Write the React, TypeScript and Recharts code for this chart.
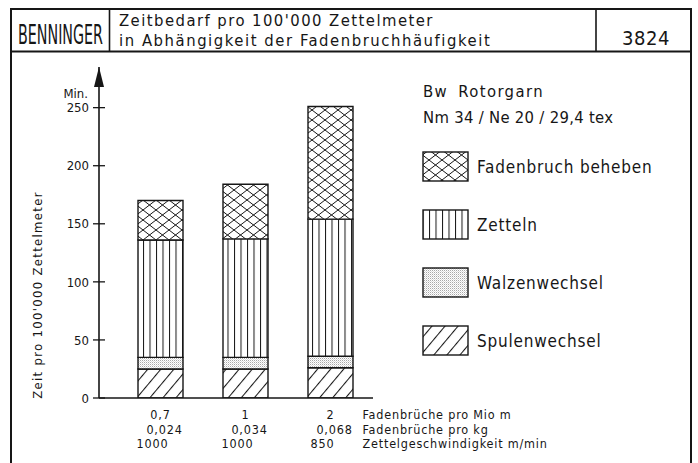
import { BarChart, Bar, XAxis, YAxis } from 'recharts'

// Werte (Minuten pro 100'000 Zettelmeter)
const categories = ['0,7', '1', '2']
const spulenwechsel = [25, 25, 26]
const walzenwechsel = [10, 10, 10]
const zetteln = [101, 102, 118]
const fadenbruchBeheben = [34, 47, 97]
const yTicks = [0, 50, 100, 150, 200, 250]

const fadenbruecheProMio = ['0,7', '1', '2']
const fadenbruecheProKg = ['0,024', '0,034', '0,068']
const zettelgeschwindigkeit = ['1000', '1000', '850']
const rowLabels = ['Fadenbrüche pro Mio m', 'Fadenbrüche pro kg', 'Zettelgeschwindigkeit m/min']

const SERIES = [
    { key: 'spulen', name: 'Spulenwechsel', values: spulenwechsel, fill: 'url(#diag)' },
    { key: 'walzen', name: 'Walzenwechsel', values: walzenwechsel, fill: 'url(#stipple)' },
    { key: 'zetteln', name: 'Zetteln', values: zetteln, fill: 'url(#vert)' },
    { key: 'faden', name: 'Fadenbruch beheben', values: fadenbruchBeheben, fill: 'url(#cross)' },
]

const data = categories.map((c, i) => {
    const row: Record<string, string | number> = { name: c }
    SERIES.forEach((s) => { row[s.key] = s.values[i] })
    return row
})

const FONT = '"DejaVu Sans Condensed", "DejaVu Sans", sans-serif'
const INK = '#161616'

const ROW_DX = [0, 4, -8]
const ROW_DY = [21, 35.5, 49.5]

function YTick(props: any) {
    const { x, y, payload } = props
    return (
        <g>
            <line x1={x + 10} x2={x + 16} y1={y} y2={y} stroke={INK} strokeWidth={1.3} />
            <text x={x} y={y + 4.7} textAnchor="end" fontFamily={FONT} fontSize={13} fill={INK}>
                {payload.value}
            </text>
        </g>
    )
}

function BottomTick(props: any) {
    const { x, y, index } = props
    const rows = [fadenbruecheProMio, fadenbruecheProKg, zettelgeschwindigkeit]
    return (
        <g fontFamily={FONT} fontSize={12.5} fill={INK} letterSpacing={0.8}>
            {rows.map((row, r) => (
                <text key={r} x={x + ROW_DX[r]} y={y + ROW_DY[r]} textAnchor="middle" fill={INK}>
                    {row[index]}
                </text>
            ))}
            {index === categories.length - 1 &&
                rowLabels.map((l, r) => (
                    <text key={'l' + r} x={x + 32} y={y + ROW_DY[r]} textAnchor="start" fill={INK}>
                        {l}
                    </text>
                ))}
        </g>
    )
}

export default function App() {
    const legendItems = [...SERIES].reverse()

    return (
        <div style={{ position: 'absolute', left: 0, top: 0, width: 698, height: 463, background: '#fff', overflow: 'hidden' }}>
            <svg width={698} height={463} style={{ position: 'absolute', left: 0, top: 0 }}>
                <defs>
                    <pattern id="cross" patternUnits="userSpaceOnUse" width={13} height={10}>
                        <rect width={13} height={10} fill="#fff" />
                        <path d="M0 0 L13 10 M0 10 L13 0" stroke={INK} strokeWidth={1} />
                    </pattern>
                    <pattern id="vert" patternUnits="userSpaceOnUse" width={6.5} height={10}>
                        <rect width={6.5} height={10} fill="#fff" />
                        <line x1={0.5} x2={0.5} y1={0} y2={10} stroke={INK} strokeWidth={1} />
                    </pattern>
                    <pattern id="stipple" patternUnits="userSpaceOnUse" width={2} height={2}>
                        <rect width={2} height={2} fill="#fff" />
                        <rect width={1} height={1} fill="#a8a8a8" />
                        <rect x={1} y={1} width={1} height={1} fill="#dcdcdc" />
                    </pattern>
                    <pattern id="diag" patternUnits="userSpaceOnUse" width={10} height={10} patternTransform="rotate(40)">
                        <rect width={10} height={10} fill="#fff" />
                        <line x1={0.5} x2={0.5} y1={0} y2={10} stroke={INK} strokeWidth={1.1} />
                    </pattern>
                    <marker id="arrowHead" markerUnits="userSpaceOnUse" markerWidth={10} markerHeight={20}
                        viewBox="0 0 10 20" refX={5} refY={0} orient="0">
                        <path d="M5 0 L10 20 L0 20 Z" fill={INK} />
                    </marker>
                </defs>

                {/* Rahmen und Kopfzeile */}
                <path d="M11 470 L11 9 L691 9 L691 470" fill="none" stroke={INK} strokeWidth={2} />
                <line x1={11} x2={691} y1={51.5} y2={51.5} stroke={INK} strokeWidth={2} />
                <line x1={109.5} x2={109.5} y1={9} y2={51.5} stroke={INK} strokeWidth={1.6} />
                <line x1={596} x2={596} y1={9} y2={51.5} stroke={INK} strokeWidth={1.6} />

                <g transform="translate(18 43.5) scale(1 1.75)">
                    <text x={0} y={0} fontFamily={FONT} fontSize={15.5} fill={INK}
                        textLength={85} lengthAdjust="spacingAndGlyphs">BENNINGER</text>
                </g>
                <text x={119} y={25.5} fontFamily={FONT} fontSize={16.5} fill={INK} letterSpacing={1.45}>
                    Zeitbedarf pro 100'000 Zettelmeter
                </text>
                <text x={119} y={45.5} fontFamily={FONT} fontSize={16.5} fill={INK} letterSpacing={1.55}>
                    in Abhängigkeit der Fadenbruchhäufigkeit
                </text>
                <text x={646} y={45} textAnchor="middle" fontFamily={FONT} fontSize={20} fill={INK}
                    letterSpacing={0.6}>3824</text>

                {/* Achsentitel */}
                <text x={42} y={295} transform="rotate(-90 42 295)" textAnchor="middle" fontFamily={FONT}
                    fontSize={13} fill={INK} letterSpacing={1.3}>Zeit pro 100'000 Zettelmeter</text>
                <text x={88} y={98} textAnchor="end" fontFamily={FONT} fontSize={13} fill={INK}>Min.</text>

                {/* Legende */}
                <text x={423} y={97} fontFamily={FONT} fontSize={16.5} fill={INK} letterSpacing={1.4}
                    wordSpacing={4}>Bw Rotorgarn</text>
                <text x={423} y={123} fontFamily={FONT} fontSize={16.5} fill={INK} letterSpacing={0.3}>
                    Nm 34 / Ne 20 / 29,4 tex
                </text>
                {legendItems.map((s, i) => {
                    const top = 152 + i * 58
                    return (
                        <g key={s.key}>
                            <rect x={423} y={top} width={45} height={29} fill={s.fill} stroke={INK} strokeWidth={1.4} />
                            <text x={477} y={top + 21} fontFamily={FONT} fontSize={17} fill={INK} letterSpacing={0.8}>
                                {s.name}
                            </text>
                        </g>
                    )
                })}
            </svg>

            <div style={{ position: 'absolute', left: 0, top: 0 }}>
                <BarChart width={698} height={463} data={data}
                    margin={{ top: 67, right: 325, bottom: 5, left: 39 }}>
                    <XAxis dataKey="name" height={60} padding={{ left: 19, right: 0 }}
                        axisLine={{ stroke: INK, strokeWidth: 1.6 }} tickLine={false}
                        tickSize={0} tickMargin={0} interval={0} tick={<BottomTick />} />
                    <YAxis type="number" domain={[0, 285]} ticks={yTicks} width={60} interval={0}
                        allowDataOverflow tickSize={6} tickMargin={4}
                        axisLine={{ stroke: INK, strokeWidth: 1.6, markerStart: 'url(#arrowHead)' }}
                        tickLine={{ stroke: INK, strokeWidth: 1.3 }} tick={<YTick />} />
                    {SERIES.map((s) => (
                        <Bar key={s.key} dataKey={s.key} name={s.name} stackId="a" barSize={45}
                            fill={s.fill} stroke={INK} strokeWidth={1.4} isAnimationActive={false} />
                    ))}
                </BarChart>
            </div>
        </div>
    )
}
